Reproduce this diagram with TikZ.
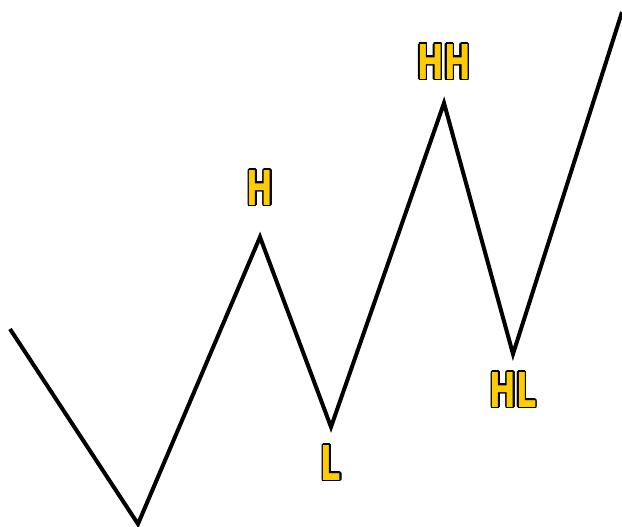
\documentclass[tikz,border=0pt]{standalone}
\usepackage{fontspec}
\usepackage{contour}
\usetikzlibrary{positioning}
\newfontfamily\swingfont[FakeStretch=0.66]{DejaVu Sans}
\definecolor{swinggold}{RGB}{255,204,0}
\contourlength{1.5pt}
\tikzset{
  swing/.style={line width=4pt, line join=miter, line cap=butt},
  tag/.style={inner sep=0pt, font=\swingfont\bfseries\fontsize{48}{48}\selectfont}
}
\newcommand{\swingtag}[1]{\contour{black}{\textcolor{swinggold}{#1}}}

\begin{document}
\begin{tikzpicture}[x=1pt,y=1pt]
	\useasboundingbox (0,0) rectangle (622,527);
	\coordinate (start) at (10,198);
	\coordinate (low0)  at (138,3);
	\coordinate (h)     at (260,290);
	\coordinate (l)     at (331,100);
	\coordinate (hh)    at (444,424);
	\coordinate (hl)    at (513,173);
	\coordinate (stop)  at (622,515);

	\draw[swing] (start) -- (low0) -- (h) -- (l) -- (hh) -- (hl) -- (stop);

	\node[tag] (tagh)  [above=30pt of h]  {\swingtag{H}};
	\node[tag] (taghh) [above=22pt of hh] {\swingtag{HH}};
	\node[tag] (tagl)  [below=18pt of l]  {\swingtag{L}};
	\node[tag] (taghl) [below=18pt of hl] {\swingtag{HL}};
\end{tikzpicture}
\end{document}
